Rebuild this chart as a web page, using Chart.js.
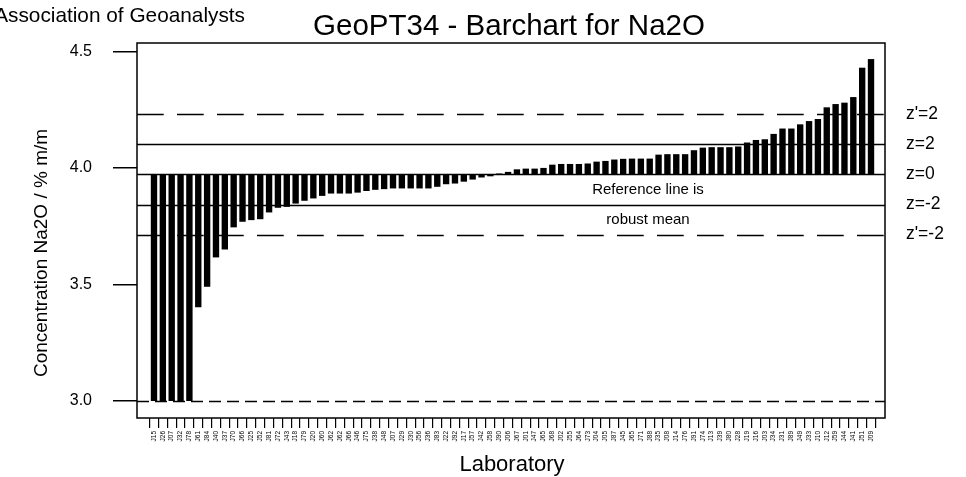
<!DOCTYPE html>
<html>
<head>
<meta charset="utf-8">
<script src="https://cdn.jsdelivr.net/npm/chart.js@4.4.1/dist/chart.umd.min.js"></script>
<style>
  html, body { margin: 0; padding: 0; background: #fff; }
  #wrap { width: 966px; height: 477px; position: relative; }
</style>
</head>
<body>
<div id="wrap"><canvas id="c" width="966" height="477"></canvas></div>
<script>
// ---- data ----
const labs = ["J15","J26","J07","J32","J78","J61","J84","J40","J37","J70","J66","J25","J52","J81","J72","J43","J18","J79","J20","J60","J62","J62","J66","J46","J75","J38","J48","J07","J29","J30","J56","J36","J83","J22","J92","J17","J57","J42","J58","J90","J06","J67","J01","J47","J65","J68","J02","J55","J64","J73","J04","J05","J87","J45","J65","J71","J88","J35","J08","J14","J76","J91","J74","J13","J39","J80","J28","J19","J16","J03","J34","J31","J89","J49","J33","J10","J12","J59","J44","J41","J51","J09"];
const values = [3.0,3.0,3.0,3.0,3.0,3.402,3.490,3.616,3.650,3.745,3.769,3.776,3.780,3.809,3.829,3.833,3.847,3.859,3.869,3.880,3.890,3.890,3.890,3.894,3.901,3.906,3.909,3.912,3.912,3.912,3.912,3.912,3.919,3.930,3.933,3.941,3.950,3.959,3.964,3.976,3.983,3.994,3.997,3.997,4.000,4.014,4.017,4.017,4.017,4.019,4.027,4.030,4.036,4.039,4.040,4.040,4.040,4.057,4.059,4.059,4.059,4.076,4.087,4.089,4.089,4.089,4.092,4.109,4.120,4.123,4.146,4.169,4.169,4.187,4.201,4.210,4.260,4.274,4.280,4.304,4.430,4.467];
const robustMean = 3.972;
const refNames = ["z'=2", "z=2", "z=0", "z=-2", "z'=-2"];
const refValues = [4.231, 4.101, 3.972, 3.843, 3.714];
const refDashed = [true, false, false, false, true];
const floorValue = 3.0;
const yTicks = [3.0, 3.5, 4.0, 4.5];

const FONT = "'Liberation Sans', Arial, Helvetica, sans-serif";
Chart.defaults.font.family = FONT;
Chart.defaults.color = '#000';

const linesPlugin = {
  id: 'refLines',
  afterDatasetsDraw(chart) {
    const { ctx, chartArea: a, scales: { y } } = chart;
    ctx.save();
    ctx.strokeStyle = '#000';
    ctx.lineWidth = 1.5;
    refValues.forEach((v, i) => {
      const py = Math.round(y.getPixelForValue(v)) + 0.5;
      ctx.setLineDash(refDashed[i] ? [26.7, 13.3] : []);
      ctx.beginPath(); ctx.moveTo(a.left, py); ctx.lineTo(a.right, py); ctx.stroke();
    });
    const fy = Math.round(y.getPixelForValue(floorValue)) + 0.5;
    ctx.setLineDash([12, 6]);
    ctx.beginPath(); ctx.moveTo(a.left, fy); ctx.lineTo(a.right, fy); ctx.stroke();
    ctx.setLineDash([]);
    ctx.strokeRect(a.left, a.top, a.right - a.left, a.bottom - a.top);
    ctx.restore();
  },
  afterDraw(chart) {
    const { ctx, scales: { y } } = chart;
    ctx.save();
    ctx.fillStyle = '#000';
    ctx.font = `20.8px ${FONT}`;
    ctx.textAlign = 'right'; ctx.textBaseline = 'alphabetic';
    ctx.fillText('Association of Geoanalysts', 245, 22);
    ctx.font = `29.5px ${FONT}`;
    ctx.textAlign = 'center';
    ctx.fillText('GeoPT34 - Barchart for Na2O', 509, 35);
    ctx.font = `22px ${FONT}`;
    ctx.textBaseline = 'middle';
    ctx.fillText('Laboratory', 512, 465);
    ctx.save();
    ctx.font = `19px ${FONT}`;
    ctx.translate(42, 253);
    ctx.rotate(-Math.PI / 2);
    ctx.fillText('Concentration Na2O / % m/m', 0, 0);
    ctx.restore();
    ctx.font = `17.5px ${FONT}`;
    ctx.textAlign = 'left';
    refValues.forEach((v, i) => {
      ctx.fillText(refNames[i], 906, y.getPixelForValue(v));
    });
    ctx.font = `15px ${FONT}`;
    ctx.textAlign = 'center';
    const m1 = (y.getPixelForValue(refValues[2]) + y.getPixelForValue(refValues[3])) / 2;
    const m2 = (y.getPixelForValue(refValues[3]) + y.getPixelForValue(refValues[4])) / 2;
    ctx.fillText('Reference line is', 648, m1);
    ctx.fillText('robust mean', 648, m2);
    ctx.restore();
  }
};

new Chart(document.getElementById('c'), {
  type: 'bar',
  data: {
    datasets: [{
      data: values.map((v, i) => ({ x: i, y: [robustMean, v] })),
      backgroundColor: '#000',
      borderWidth: 0,
      barPercentage: 0.72,
      categoryPercentage: 1.0
    }]
  },
  options: {
    responsive: false,
    animation: false,
    devicePixelRatio: 1,
    layout: { padding: { top: 43, right: 81, left: 0, bottom: 0 } },
    plugins: { legend: { display: false }, tooltip: { enabled: false }, title: { display: false } },
    scales: {
      x: {
        type: 'linear', min: -1.92, max: 82.58, offset: false,
        afterBuildTicks: s => { s.ticks = labs.map((_, i) => ({ value: i })); },
        afterFit: s => { s.height = 59; },
        ticks: {
          autoSkip: false, maxRotation: 90, minRotation: 90,
          font: { size: 6.5 }, color: '#000', padding: 3,
          callback: v => labs[Math.round(v)]
        },
        grid: { drawOnChartArea: false, tickLength: 10, color: '#000', lineWidth: 1.2 },
        border: { display: false }
      },
      y: {
        min: 2.927, max: 4.536,
        afterBuildTicks: s => { s.ticks = yTicks.map(v => ({ value: v })); },
        afterFit: s => { s.width = 137; },
        ticks: { callback: v => Number(v).toFixed(1), font: { size: 16 }, color: '#000', padding: 21 },
        grid: { drawOnChartArea: false, tickLength: 24, color: '#000', lineWidth: 1.5 },
        border: { display: false }
      }
    }
  },
  plugins: [linesPlugin]
});
</script>
</body>
</html>
